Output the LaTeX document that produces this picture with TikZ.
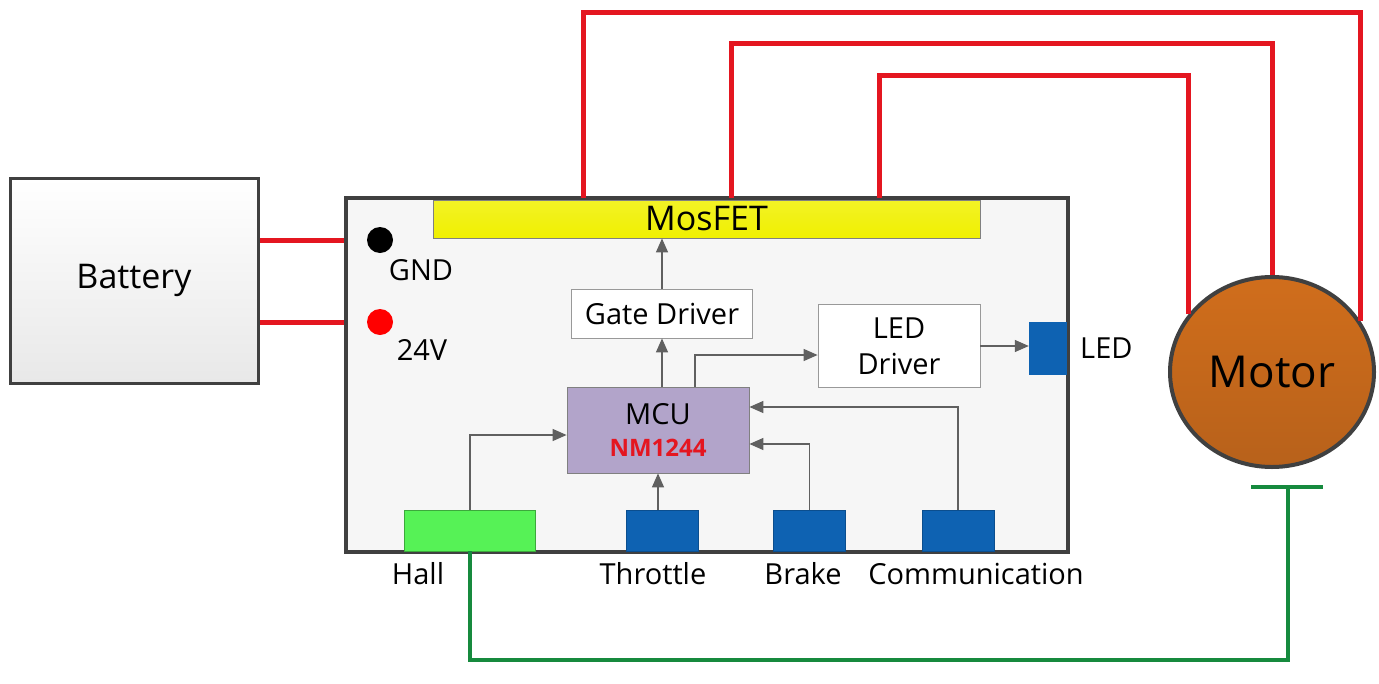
\documentclass[tikz,border=0pt]{standalone}
\usepackage{fontspec}
\setmainfont{Open Sans}
\usetikzlibrary{arrows.meta}
\usetikzlibrary{positioning}
\usetikzlibrary{shapes.geometric}
\definecolor{wirered}{RGB}{228,22,32}
\definecolor{wiregreen}{RGB}{22,138,62}
\definecolor{edgegray}{RGB}{64,64,64}
\definecolor{arrowgray}{RGB}{96,96,96}
\definecolor{mcupurple}{RGB}{178,164,202}
\definecolor{portblue}{RGB}{14,98,178}
\definecolor{hallgreen}{RGB}{86,242,86}
\definecolor{motororange}{RGB}{204,108,30}
\definecolor{mosyellow}{RGB}{240,240,0}

\tikzset{
  lbl/.style={font=\fontsize{29}{32}\selectfont, inner sep=0pt},
  blockbox/.style={draw=gray!80, fill=white, line width=0.8pt, lbl, align=center},
  portbox/.style={fill=portblue, draw=portblue!80!black, line width=0.5pt,
    minimum width=72pt, minimum height=41pt, inner sep=0pt},
  sig/.style={draw=arrowgray, line width=1.3pt, -{Triangle[length=14pt,width=12pt]}},
  redwire/.style={draw=wirered, line width=5pt},
  greenwire/.style={draw=wiregreen, line width=4.5pt}
}

\begin{document}
\begin{tikzpicture}[x=1pt,y=-1pt]
\useasboundingbox (0,0) rectangle (1379,683);

% Bateria
\node[draw=edgegray, line width=3pt, top color=white, bottom color=gray!18,
  minimum width=248pt, minimum height=205pt, font=\fontsize{34}{38}\selectfont]
  (battery) at (134,280.5) {Battery};

% Controlador
\node[draw=edgegray, line width=4pt, fill=gray!7,
  minimum width=722pt, minimum height=354pt] (ctrl) at (707,375) {};

% MosFET
\node[draw=gray, line width=0.8pt, top color=mosyellow!85!white, bottom color=mosyellow,
  minimum width=547pt, minimum height=38pt, inner sep=0pt,
  font=\fontsize{34}{38}\selectfont] (mosfet) at (706.5,219) {MosFET};

% Terminais
\fill[black] (380,240) circle (13pt) coordinate (gnd);
\fill[red] (380,322) circle (13pt) coordinate (v24);
\node[lbl] (gndlbl) at (421,270) {GND};
\node[lbl] (v24lbl) at (422,350) {24V};
\draw[redwire] (battery.east |- gnd) -- (ctrl.west |- gnd);
\draw[redwire] (battery.east |- v24) -- (ctrl.west |- v24);

% Blocos internos
\node[blockbox, minimum width=181pt, minimum height=49pt] (gate) at (662,313.5) {Gate Driver};
\node[blockbox, minimum width=162pt, minimum height=83pt] (leddrv) at (899,346)
  {LED\\[4pt]Driver};
\node[fill=portblue, minimum width=38pt, minimum height=53pt, inner sep=0pt]
  (led) at (1048,348.5) {};
\node[lbl, anchor=west] (ledlbl) at (1080,348) {LED};
\node[draw=gray, line width=0.8pt, fill=mcupurple, minimum width=182pt, minimum height=86pt,
  align=center, inner sep=0pt] (mcu) at (658,430)
  {\fontsize{29}{32}\selectfont MCU\\[14pt]
   \fontsize{24}{26}\selectfont\bfseries\color{wirered}NM1244};

% Portas
\node[fill=hallgreen, draw=hallgreen!70!black, line width=0.5pt,
  minimum width=131pt, minimum height=41pt, inner sep=0pt] (hall) at (470,530.5) {};
\node[portbox] (throttle) at (662,530.5) {};
\node[portbox] (brake) at (809.5,530.5) {};
\node[portbox] (comm) at (958,530.5) {};
\node[lbl] (halllbl) at (418,574) {Hall};
\node[lbl] (throttlelbl) at (653,574) {Throttle};
\node[lbl] (brakelbl) at (803,574) {Brake};
\node[lbl] (commlbl) at (976,574) {Communication};

% Sinais
\draw[sig] (gate.north) -- (gate.north |- mosfet.south);
\draw[sig] (gate.south |- mcu.north) -- (gate.south);
\draw[sig] ([xshift=37pt]mcu.north) |- ([yshift=-9pt]leddrv.west);
\draw[sig] (leddrv.east) -- (leddrv.east -| led.west);
\draw[sig] (hall.north) |- ([yshift=-5pt]mcu.west);
\draw[sig] ([xshift=-4pt]throttle.north) -- ([xshift=-4pt]throttle.north |- mcu.south);
\draw[sig] (brake.north) |- ([yshift=-14pt]mcu.east);
\draw[sig] (comm.north) |- ([yshift=23pt]mcu.east);

% Motor
\node[ellipse, draw=edgegray, line width=4pt, top color=motororange!92!orange,
  bottom color=motororange!90!black, minimum width=204pt, minimum height=190pt,
  font=\fontsize{44}{48}\selectfont] (motor) at (1272,372) {Motor};

% Fases
\coordinate (m1) at (583,198);
\coordinate (m2) at (731,198);
\coordinate (m3) at (879,198);
\draw[redwire] (m1) -- (m1 |- 0,12) -| (motor.30);
\draw[redwire] (m2) -- (m2 |- 0,43) -| (motor.north);
\draw[redwire] (m3) -- (m3 |- 0,75) -| (motor.145);

% Sensor Hall
\coordinate (gbar) at (1288,487);
\draw[greenwire] (hall.south) -- (hall.south |- 0,660) -| (gbar);
\draw[greenwire] ([xshift=-37pt]gbar) -- ([xshift=35pt]gbar);

\end{tikzpicture}
\end{document}
